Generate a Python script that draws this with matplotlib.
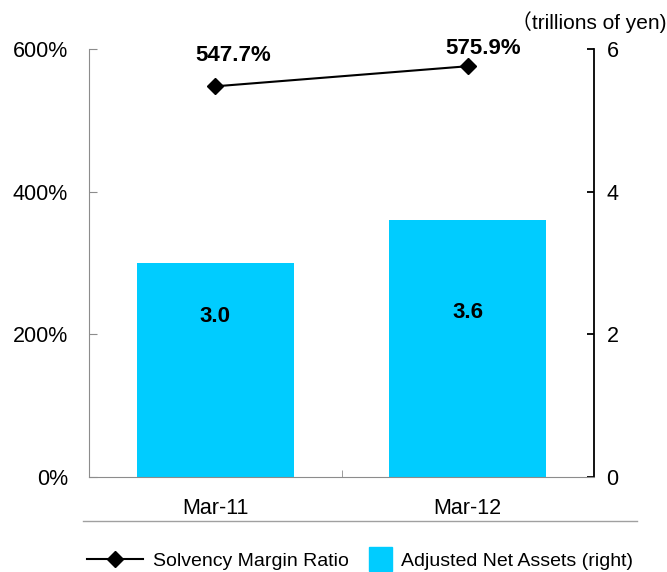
import numpy as np
import matplotlib
matplotlib.use('Agg')
import matplotlib.pyplot as plt
from matplotlib.lines import Line2D
from matplotlib.patches import Patch, Rectangle
from matplotlib.legend_handler import HandlerPatch

plt.rcParams['font.family'] = ['Liberation Sans', 'Noto Sans CJK JP', 'DejaVu Sans']

categories = ['Mar-11', 'Mar-12']
solvency_ratio = [547.7, 575.9]       # %
net_assets = [3.0, 3.6]               # trillions of yen
left_ticks = [0, 200, 400, 600]
right_ticks = [0, 2, 4, 6]

bar_color = '#00CCFF'
grey = '#8c8c8c'

fig = plt.figure(figsize=(6.67, 5.72), dpi=100)
ax = fig.add_axes([0.1334, 0.166, 0.7572, 0.7483])
ax2 = ax.twinx()

x = np.arange(len(categories))

# bars on the right axis
ax2.bar(x, net_assets, width=0.62, color=bar_color, zorder=1)
for xi, v in zip(x, net_assets):
    ax2.text(xi, v * 0.75 - (v - 3.0) * 0.65, f'{v:.1f}', ha='center', va='center',
             fontsize=16, fontweight='bold')

# line on the left axis, drawn above the bars
ax.set_zorder(ax2.get_zorder() + 1)
ax.patch.set_visible(False)
ax.plot(x, solvency_ratio, color='black', lw=1.5, marker='D', markersize=8)
label_offsets = [(13, 22), (11, 13)]   # points, label placement like the original
for xi, v, off in zip(x, solvency_ratio, label_offsets):
    ax.annotate(f'{v}%', (xi, v), xytext=off, textcoords='offset points',
                ha='center', va='center', fontsize=16, fontweight='bold')

ax.set_xlim(-0.5, 1.5)
ax.set_ylim(0, 600)
ax2.set_ylim(0, 6)
ax.set_xticks(x)
ax.set_xticklabels(categories, fontsize=15.5)
ax.set_xticks([0.5], minor=True)
ax.tick_params(axis='x', which='major', length=0, pad=15)
ax.tick_params(axis='x', which='minor', direction='in', length=5, color=grey)

ax.set_yticks(left_ticks)
ax.set_yticklabels([f'{t}%' for t in left_ticks], fontsize=15.5)
ax.tick_params(axis='y', direction='in', length=6, color=grey, pad=15)
ax2.set_yticks(right_ticks)
ax2.set_yticklabels([str(t) for t in right_ticks], fontsize=15.5)
ax2.tick_params(axis='y', direction='in', length=5, color='black', width=1.3, pad=9)

for a in (ax, ax2):
    a.spines['top'].set_visible(False)
ax.spines['left'].set_color(grey)
ax.spines['bottom'].set_color(grey)
ax.spines['right'].set_visible(False)
ax2.spines['left'].set_visible(False)
ax2.spines['bottom'].set_visible(False)
ax2.spines['right'].set_color('black')
ax2.spines['right'].set_linewidth(1.3)

fig.text(0.999, 0.962, '（trillions of yen)', ha='right', va='center', fontsize=15)

# separator line above legend
fig.add_artist(Line2D([83 / 667, 637 / 667], [1 - 521 / 572] * 2, color='#a0a0a0', lw=1))


def square_patch(legend, orig_handle, xdescent, ydescent, width, height, fontsize):
    side = height * 1.7
    return Rectangle((width - side - xdescent, -ydescent - (side - height) / 2), side, side)


handles = [Line2D([0], [0], color='black', lw=1.5, marker='D', markersize=8),
           Patch(color=bar_color)]
fig.legend(handles, ['Solvency Margin Ratio', 'Adjusted Net Assets (right)'],
           loc='center', bbox_to_anchor=(0.54, 1 - 561 / 572), ncol=2, frameon=False,
           fontsize=14, handlelength=2.9, columnspacing=-0.7, handletextpad=0.5,
           handler_map={Patch: HandlerPatch(patch_func=square_patch)})

fig.savefig('out.png', dpi=100)
